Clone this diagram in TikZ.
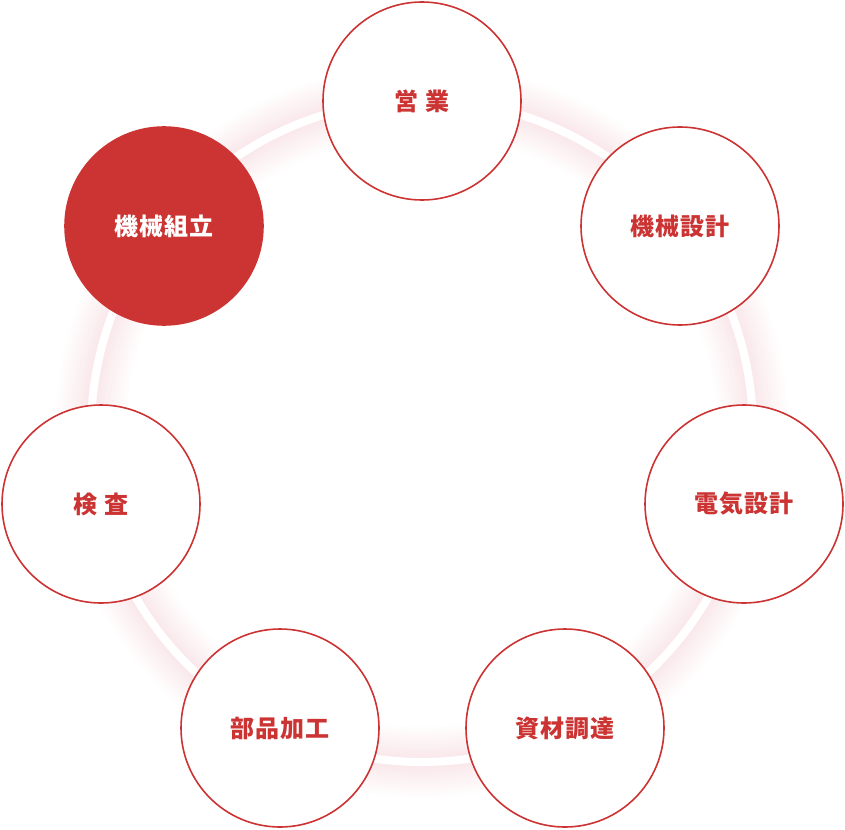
\documentclass[tikz,border=0pt]{standalone}
\usepackage{fontspec}
\newfontfamily\jp[LetterSpace=4]{Noto Sans CJK JP}
\definecolor{brand}{RGB}{204,51,51}
\definecolor{glow}{RGB}{210,80,100}
\begin{document}
\begin{tikzpicture}[x=1pt,y=-1pt,
  stage/.style={circle, draw=brand, line width=1.6pt, fill=white, minimum size=198pt, inner sep=0pt, text=brand, font=\jp\bfseries\fontsize{24}{27}\selectfont},
  activestage/.style={stage, fill=brand, text=white}]
\useasboundingbox (0,0) rectangle (845,829);
\coordinate (c) at (422,431);
\foreach \i in {1,...,16}{
  \draw[glow, opacity=0.009, line width={8+4*\i}] (c) circle[radius=331];
}
\draw[white, line width=8] (c) circle[radius=331];
\node[stage] (eigyo) at (422,101) {営 業};
\node[stage] (kikaisekkei) at (680,226) {機械設計};
\node[stage] (denki) at (744,504) {電気設計};
\node[stage] (shizai) at (565,728) {資材調達};
\node[stage] (buhin) at (280,728) {部品加工};
\node[stage] (kensa) at (101,504) {検 査};
\node[activestage] (kumitate) at (164,226) {機械組立};
\end{tikzpicture}
\end{document}
